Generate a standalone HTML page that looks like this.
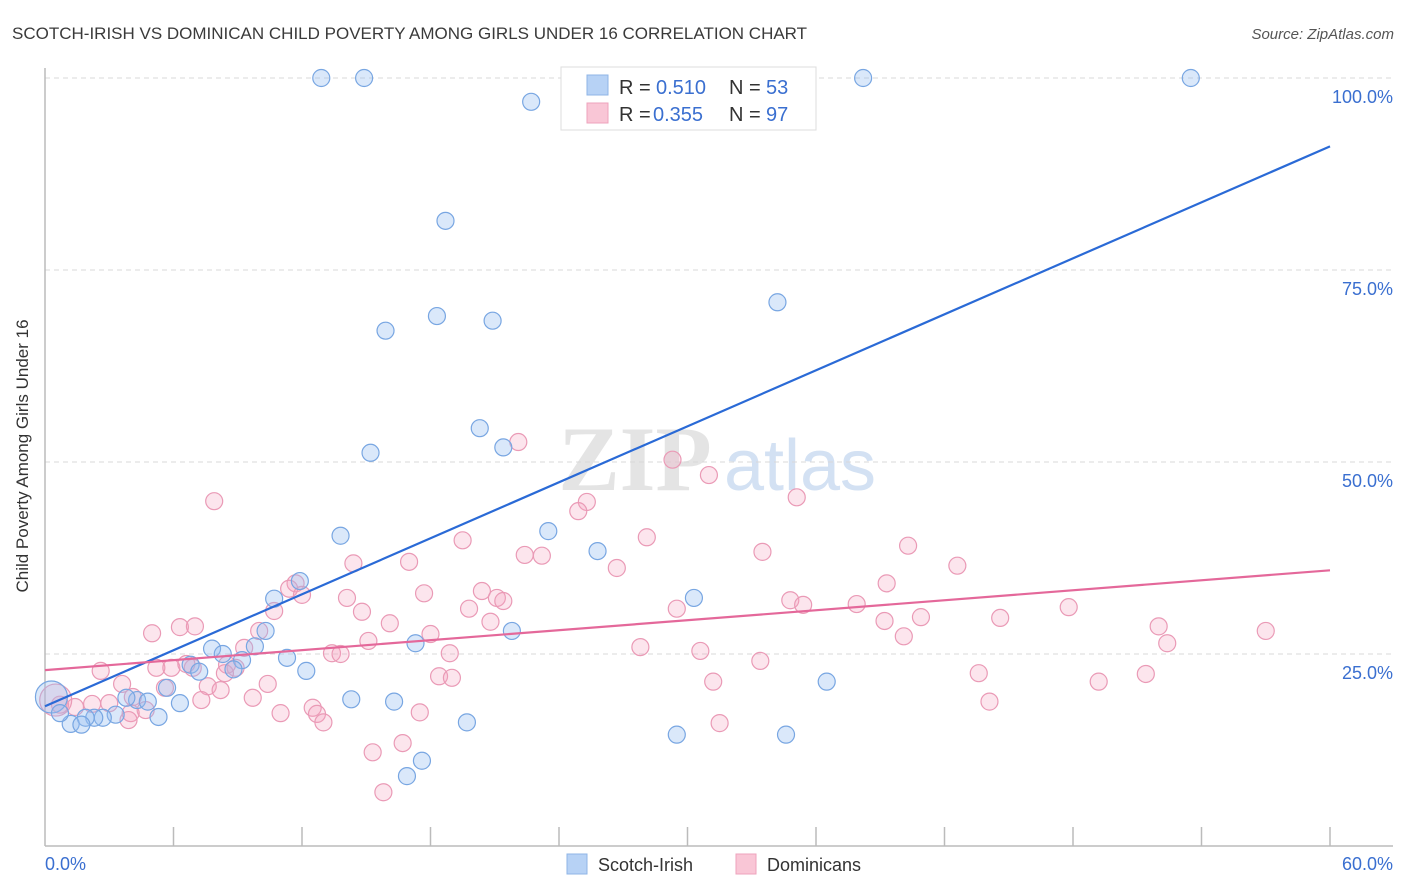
<!DOCTYPE html>
<html><head><meta charset="utf-8"><style>
body{margin:0;background:#fff;font-family:"Liberation Sans",sans-serif;}
svg{display:block}
</style></head><body>
<svg id="chart" width="1406" height="892" xmlns="http://www.w3.org/2000/svg">
<text x="12" y="39" font-size="17" fill="#3a3a3a">SCOTCH-IRISH VS DOMINICAN CHILD POVERTY AMONG GIRLS UNDER 16 CORRELATION CHART</text>
<text x="1394" y="39" font-size="15" fill="#555" font-style="italic" text-anchor="end">Source: ZipAtlas.com</text>
<g><text x="635" y="490" font-size="92" font-family="Liberation Serif,serif" fill="#e4e4e4" text-anchor="middle" font-weight="bold">ZIP</text><text x="800" y="490" font-size="72" fill="#d3e1f3" text-anchor="middle">atlas</text></g>
<g id="grid"></g>
<g id="axes"></g>
<g id="marks"></g>
<text x="28" y="456" font-size="17" fill="#333" text-anchor="middle" transform="rotate(-90 28 456)">Child Poverty Among Girls Under 16</text>
<g>
<rect x="561" y="67" width="255" height="63" fill="#fff" stroke="#ddd"/>
<rect x="587" y="75" width="21" height="20" fill="#b7d2f5" stroke="#8fb4e6"/>
<rect x="587" y="103" width="21" height="20" fill="#f9c6d6" stroke="#eea3bc"/>
<g font-size="20">
<text x="619" y="94" fill="#333">R =</text><text x="656" y="94" fill="#3a6fd0">0.510</text>
<text x="729" y="94" fill="#333">N =</text><text x="766" y="94" fill="#3a6fd0">53</text>
<text x="619" y="121" fill="#333">R =</text><text x="653" y="121" fill="#3a6fd0">0.355</text>
<text x="729" y="121" fill="#333">N =</text><text x="766" y="121" fill="#3a6fd0">97</text>
</g>
</g>
<g>
<rect x="567" y="854" width="20" height="20" fill="#b7d2f5" stroke="#8fb4e6"/>
<text x="598" y="871" font-size="18" fill="#333">Scotch-Irish</text>
<rect x="736" y="854" width="20" height="20" fill="#f9c6d6" stroke="#eea3bc"/>
<text x="767" y="871" font-size="18" fill="#333">Dominicans</text>
</g>
</svg>
<script>
const yTicks=[25,50,75,100];
const yTickLabels=["25.0%","50.0%","75.0%","100.0%"];
const xTickCount=10;
const xLabels=["0.0%","60.0%"];
const blueX=[12.9,14.9,38.2,53.5,22.7,18.7,34.2,18.3,20.9,15.9,20.3,21.4,15.2,23.5,13.8,25.8,11.9,10.7,30.3,10.3,21.8,17.3,7.8,8.3,9.2,11.3,9.8,6.8,7.2,8.8,12.2,5.7,36.5,6.3,14.3,16.3,4.3,4.8,3.8,3.3,2.7,5.3,2.3,1.9,1.2,1.7,19.7,29.5,34.6,17.6,16.9,0.3,0.7];
const blueY=[100,100,100,100,96.9,81.4,70.8,69.0,68.4,67.1,54.4,51.9,51.2,41.0,40.4,38.4,34.5,32.2,32.3,28.0,28.0,26.4,25.7,25.0,24.2,24.5,26.0,23.6,22.7,23.0,22.8,20.6,21.4,18.6,19.1,18.8,19.0,18.8,19.3,17.1,16.7,16.8,16.7,16.7,15.9,15.8,16.1,14.5,14.5,11.1,9.1,19.4,17.3];
const blueBig=[51];
const pinkX=[22.1,29.3,31.0,7.9,35.1,25.3,24.9,19.5,28.1,22.4,23.2,33.5,40.3,14.4,17.0,26.7,42.6,39.3,11.7,11.4,12.0,20.4,21.1,21.4,17.7,14.1,14.8,10.7,19.8,29.5,34.8,35.4,37.9,47.8,40.9,39.2,44.6,16.1,18.0,20.8,5.0,6.3,7.0,10.0,40.1,52.0,52.4,57.0,15.1,27.8,30.6,13.4,13.8,18.9,9.3,8.9,2.6,5.2,5.9,6.9,6.6,8.5,8.4,33.4,43.6,51.4,49.2,31.2,3.6,7.6,10.4,5.6,18.4,19.0,3.0,4.1,4.7,7.3,8.2,9.7,2.2,1.4,0.7,0.5,4.0,11.0,12.5,12.7,13.0,17.5,31.5,44.1,3.9,15.3,16.7,15.8];
const pinkY=[52.6,50.3,48.3,44.9,45.4,44.8,43.6,39.8,40.2,37.9,37.8,38.3,39.1,36.8,37.0,36.2,36.5,34.2,34.2,33.5,32.7,33.2,32.3,31.9,32.9,32.3,30.5,30.6,30.9,30.9,32.0,31.4,31.5,31.1,29.8,29.3,29.7,29.0,27.6,29.2,27.7,28.5,28.6,28.0,27.3,28.6,26.4,28.0,26.7,25.9,25.4,25.1,25.0,25.1,25.8,23.2,22.8,23.2,23.2,23.2,23.7,23.6,22.5,24.1,22.5,22.4,21.4,21.4,21.1,20.8,21.1,20.6,22.1,21.9,18.6,19.4,17.7,19.0,20.3,19.3,18.5,18.1,18.4,19.0,17.3,17.3,18.0,17.2,16.1,17.4,16.0,18.8,16.4,12.2,13.4,7.0];
const pinkBig=[83];
const lineX=[0,60];
const blueLine=[18.2,91.1];
const pinkLine=[22.9,35.9];

const NS="http://www.w3.org/2000/svg";
const X0=45,X1=1330,Y0=846,YPER=7.68;
function sx(v){return X0+(X1-X0)*v/60;}
function sy(v){return Y0-v*YPER;}
function mk(tag,attrs,parent){const e=document.createElementNS(NS,tag);for(const k in attrs)e.setAttribute(k,attrs[k]);parent.appendChild(e);return e;}
const grid=document.getElementById('grid'),axes=document.getElementById('axes'),marks=document.getElementById('marks');
yTicks.forEach((t,i)=>{
  const l=mk('line',{x1:X0,x2:1393,y1:sy(t),y2:sy(t),stroke:'#d8d8d8','stroke-dasharray':'5,4'},grid);
  
  
  const tx=mk('text',{x:1393,y:sy(t)+25,'font-size':18,fill:'#3a6fd0','text-anchor':'end'},grid);
  tx.textContent=yTickLabels[i];
  
  
});
const ya=mk('line',{x1:X0,x2:X0,y1:68,y2:Y0,stroke:'#bbb','stroke-width':1.5},axes);


const xa=mk('line',{x1:X0,x2:1393,y1:Y0,y2:Y0,stroke:'#bbb','stroke-width':1.5},axes);


for(let i=1;i<=xTickCount;i++){
  const v=60*i/xTickCount;
  const t=mk('line',{x1:sx(v),x2:sx(v),y1:827,y2:Y0,stroke:'#bbb','stroke-width':1.5},axes);
  
  
}
const xl0=mk('text',{x:X0,y:870,'font-size':18,fill:'#3a6fd0'},axes);xl0.textContent=xLabels[0];


const xl1=mk('text',{x:1393,y:870,'font-size':18,fill:'#3a6fd0','text-anchor':'end'},axes);xl1.textContent=xLabels[1];


function pts(xs,ys,big,fill,stroke,name){
  xs.forEach((x,i)=>{
    const c=mk('circle',{cx:sx(x),cy:sy(ys[i]),r:big.includes(i)?16:8.5,fill:fill,stroke:stroke,'stroke-width':1.2},marks);
    
    
  });
}
pts(pinkX,pinkY,pinkBig,'rgba(244,160,190,0.28)','#ea9ab6','dominicans-point');
pts(blueX,blueY,blueBig,'rgba(150,190,240,0.35)','#78a6e2','scotch-irish-point');
const bl=mk('line',{x1:sx(lineX[0]),y1:sy(blueLine[0]),x2:sx(lineX[1]),y2:sy(blueLine[1]),stroke:'#2a6ad6','stroke-width':2.2},marks);


const pl=mk('line',{x1:sx(lineX[0]),y1:sy(pinkLine[0]),x2:sx(lineX[1]),y2:sy(pinkLine[1]),stroke:'#e4689a','stroke-width':2.2},marks);


</script>
</body></html>
